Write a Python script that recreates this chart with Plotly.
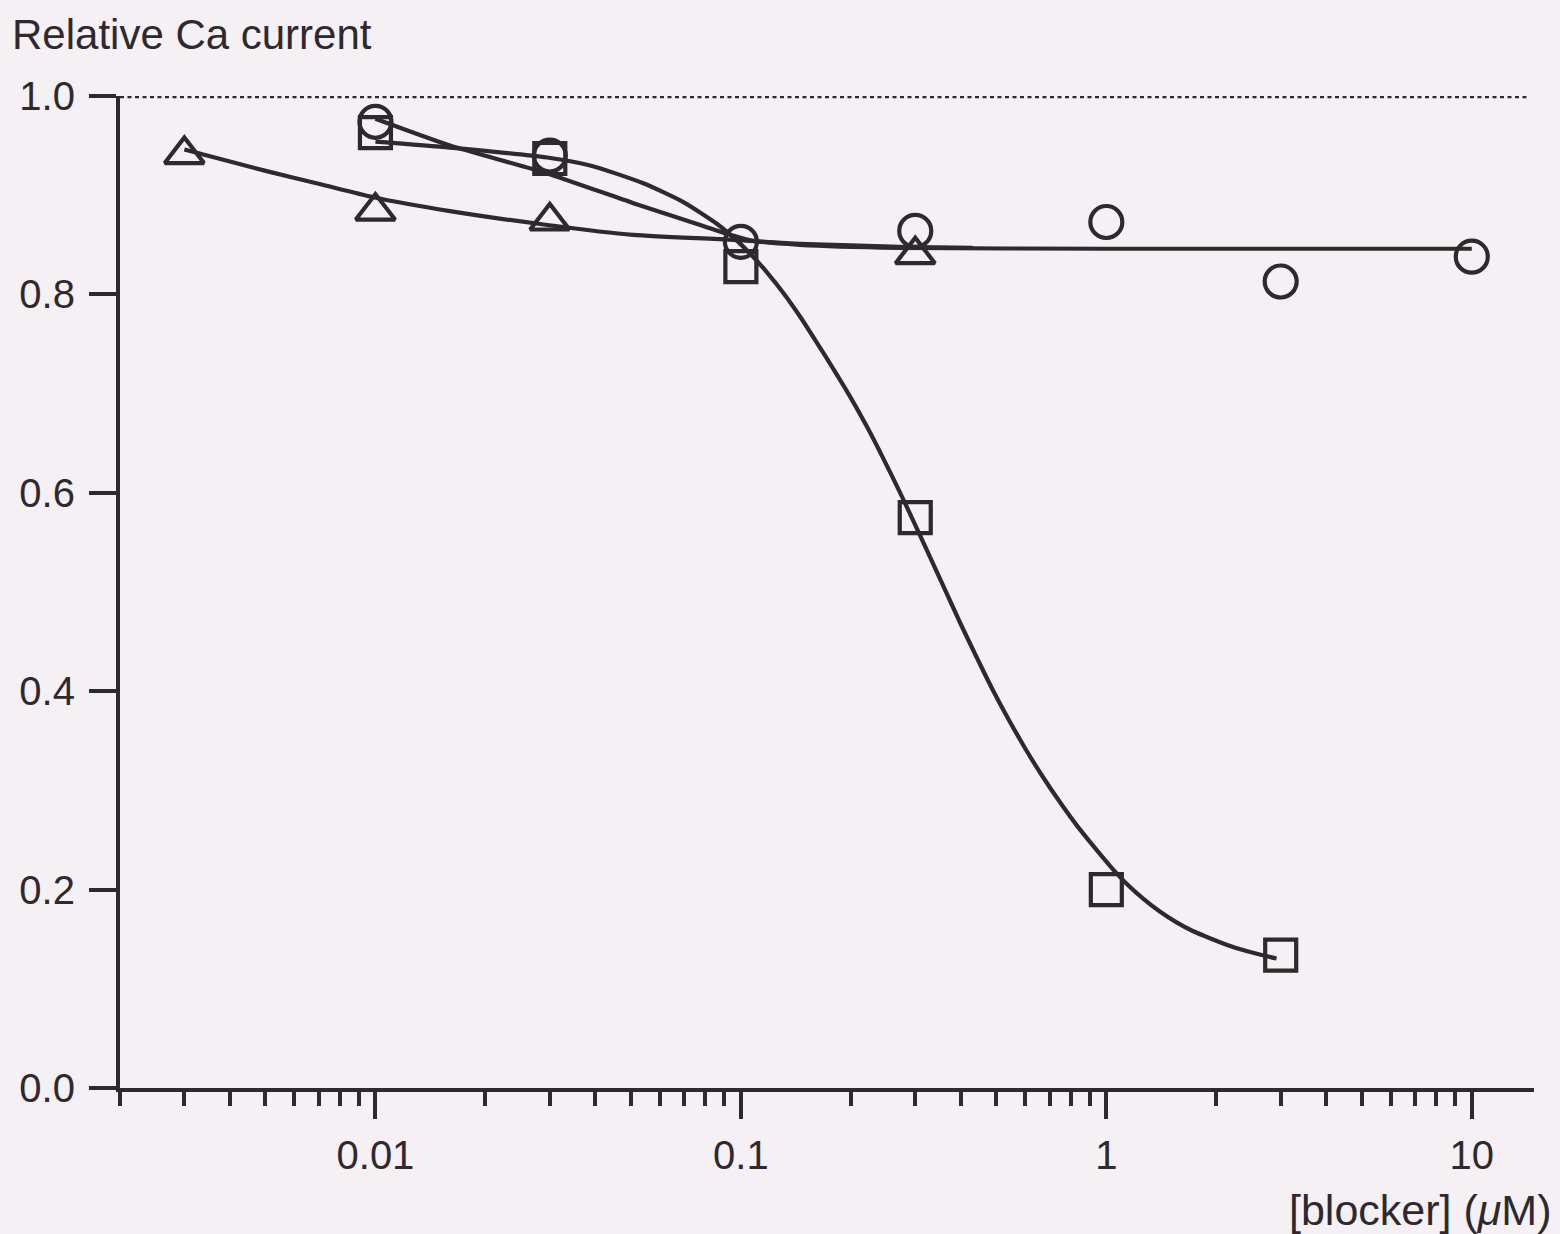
import math
import plotly.graph_objects as go

# Measured points: relative Ca current vs blocker concentration (µM)
circle_x = [0.01, 0.03, 0.1, 0.3, 1, 3, 10]
circle_y = [0.974, 0.940, 0.853, 0.864, 0.873, 0.813, 0.838]

square_x = [0.01, 0.03, 0.1, 0.3, 1, 3]
square_y = [0.963, 0.937, 0.828, 0.575, 0.200, 0.134]

triangle_x = [0.003, 0.01, 0.03, 0.3]
triangle_y = [0.941, 0.884, 0.874, 0.840]

# Fitted curves (sampled along each drawn curve)
circle_fit_x = [0.01, 0.016, 0.0295, 0.0508, 0.0774, 0.0935, 0.108, 0.145, 0.27, 1.0, 10]
circle_fit_y = [0.977, 0.950, 0.922, 0.892, 0.870, 0.860, 0.854, 0.850, 0.847, 0.846, 0.846]

square_fit_x = [0.01, 0.016, 0.0295, 0.0387, 0.0541, 0.0696, 0.0861, 0.0977, 0.108, 0.118,
                0.131, 0.145, 0.161, 0.179, 0.199, 0.221, 0.245, 0.272, 0.297, 0.323,
                0.398, 0.442, 0.491, 0.545, 0.605, 0.672, 0.747, 0.829, 0.921, 1.023,
                1.136, 1.261, 1.401, 1.557, 1.729, 1.920, 2.133, 2.368, 2.630, 2.922]
square_fit_y = [0.954, 0.948, 0.938, 0.930, 0.912, 0.893, 0.871, 0.854, 0.838, 0.822,
                0.801, 0.778, 0.752, 0.725, 0.697, 0.667, 0.635, 0.601, 0.571, 0.542,
                0.469, 0.434, 0.400, 0.369, 0.340, 0.313, 0.288, 0.265, 0.244, 0.224,
                0.206, 0.191, 0.178, 0.167, 0.158, 0.151, 0.1445, 0.139, 0.1345, 0.1305]

triangle_fit_x = [0.003, 0.00507, 0.00708, 0.00987, 0.016, 0.0295, 0.0507, 0.0953, 0.145, 0.272, 0.431]
triangle_fit_y = [0.946, 0.924, 0.911, 0.898, 0.884, 0.870, 0.860, 0.855, 0.851, 0.848, 0.847]

# Axis ticks
x_major = [0.01, 0.1, 1, 10]
x_major_text = ["0.01", "0.1", "1", "10"]
x_minor = [m * 10 ** e for e in (-3, -2, -1, 0) for m in range(2, 10)]
y_ticks = [0.0, 0.2, 0.4, 0.6, 0.8, 1.0]
y_tick_text = ["0.0", "0.2", "0.4", "0.6", "0.8", "1.0"]

INK = "#2f292d"
BG = "#f4f0f3"
FONT = "Liberation Sans, Arial, Helvetica, sans-serif"
STROKE = 4.2

fig = go.Figure()

curve_line = dict(color=INK, width=STROKE)
for fx, fy in [(triangle_fit_x, triangle_fit_y), (circle_fit_x, circle_fit_y), (square_fit_x, square_fit_y)]:
    fig.add_trace(go.Scatter(x=fx, y=fy, mode="lines", line=dict(shape="spline", smoothing=0.6, **curve_line),
                             hoverinfo="skip", showlegend=False, cliponaxis=False))

fig.add_trace(go.Scatter(x=triangle_x, y=triangle_y, mode="markers", showlegend=False, cliponaxis=False,
                         marker=dict(symbol="triangle-up-open", size=34, color=INK, line=dict(color=INK, width=STROKE))))
fig.add_trace(go.Scatter(x=square_x, y=square_y, mode="markers", showlegend=False, cliponaxis=False,
                         marker=dict(symbol="square-open", size=31, color=INK, line=dict(color=INK, width=STROKE))))
fig.add_trace(go.Scatter(x=circle_x, y=circle_y, mode="markers", showlegend=False, cliponaxis=False,
                         marker=dict(symbol="circle-open", size=32, color=INK, line=dict(color=INK, width=STROKE))))

# dotted reference level at 1.0
fig.add_shape(type="line", xref="paper", yref="y", x0=0, x1=0.997, y0=1.0, y1=1.0,
              line=dict(color=INK, width=4.5, dash="4px,3.5px"))

fig.update_xaxes(
    type="log",
    range=[math.log10(0.002), math.log10(14.8)],
    tickmode="array", tickvals=x_major, ticktext=x_major_text,
    ticks="outside", ticklen=27, tickwidth=STROKE, tickcolor=INK,
    minor=dict(tickmode="array", tickvals=x_minor, ticks="outside", ticklen=14, tickwidth=STROKE, tickcolor=INK),
    showline=True, linewidth=STROKE, linecolor=INK,
    showgrid=False, zeroline=False,
    tickfont=dict(family=FONT, size=40, color=INK),
    ticklabelstandoff=2,
)
fig.update_yaxes(
    range=[0, 1.0],
    tickmode="array", tickvals=y_ticks, ticktext=y_tick_text,
    ticks="outside", ticklen=27, tickwidth=STROKE, tickcolor=INK,
    showline=True, linewidth=STROKE, linecolor=INK,
    showgrid=False, zeroline=False,
    tickfont=dict(family=FONT, size=40, color=INK),
    ticklabelstandoff=6,
)

fig.add_annotation(text="Relative Ca current", xref="paper", yref="paper", x=-0.0778, y=1.0615,
                   xanchor="left", yanchor="middle", showarrow=False,
                   font=dict(family=FONT, size=42, color=INK))
fig.add_annotation(text="[blocker] (<i>μ</i>M)", xref="paper", yref="paper", x=1.0134, y=-0.123,
                   xanchor="right", yanchor="middle", showarrow=False,
                   font=dict(family=FONT, size=43, color=INK))

fig.update_layout(
    width=1560, height=1234,
    margin=dict(l=120, r=26, t=96, b=146),
    paper_bgcolor=BG, plot_bgcolor=BG,
    showlegend=False,
)

fig.write_html("out.html")
